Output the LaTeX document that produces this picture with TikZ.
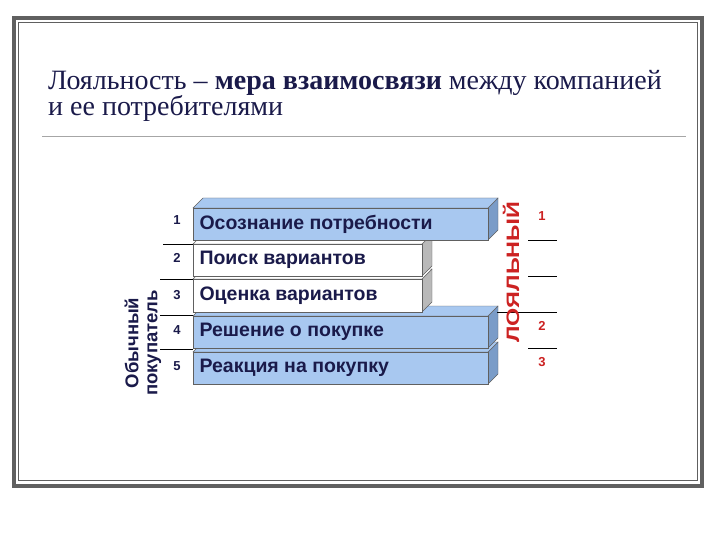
\documentclass[tikz,border=0pt]{standalone}
\usepackage{fontspec}
\setmainfont{Liberation Serif}
\newfontfamily\arial{Liberation Sans}
\begin{document}
\begin{tikzpicture}[x=1pt,y=-1pt,
  boxtxt/.style={font=\arial\bfseries\fontsize{19.5}{20}\selectfont,text=navy,anchor=west},
  numtxt/.style={font=\arial\bfseries\fontsize{13}{14}\selectfont,text=navy},
  rednum/.style={font=\arial\bfseries\fontsize{13}{14}\selectfont,text=redc},
  thin/.style={black,line width=0.6pt}]
\definecolor{navy}{HTML}{1A1A4A}
\definecolor{redc}{HTML}{CC2222}
\definecolor{bluef}{HTML}{A8C8F0}
\definecolor{blues}{HTML}{7A9CC8}
\definecolor{frameg}{HTML}{606060}
\useasboundingbox (0,0) rectangle (720,540);
\fill[white] (0,0) rectangle (720,540);
\draw[frameg,line width=4pt] (14,18) rectangle (702,486);
\draw[frameg,line width=0.8pt] (18,22) rectangle (697,480);
\node[anchor=base west,inner sep=0,text=navy,font=\fontsize{28}{30}\selectfont] (t1) at (48,90) {Лояльность – \textbf{мера взаимосвязи} между компанией};
\node[anchor=base west,inner sep=0,text=navy,font=\fontsize{28}{30}\selectfont] (t2) at (48,116) {и ее потребителями};
\draw[gray!70,line width=0.8pt] (42,136) -- (686,136);
% box5
\filldraw[draw=frameg,fill=blues] (488,352)--(498,342)--(498,374)--(488,384)--cycle;
\filldraw[draw=frameg,fill=bluef] (193,352)--(203,342)--(498,342)--(488,352)--cycle;
\node[draw=frameg,fill=bluef,minimum width=295,minimum height=32,inner sep=0,anchor=north west] (b5) at (193,352) {};
% box4
\filldraw[draw=frameg,fill=blues] (488,316)--(498,306)--(498,338)--(488,348)--cycle;
\filldraw[draw=frameg,fill=bluef] (193,316)--(203,306)--(498,306)--(488,316)--cycle;
\node[draw=frameg,fill=bluef,minimum width=295,minimum height=32,inner sep=0,anchor=north west] (b4) at (193,316) {};
% box3
\filldraw[draw=frameg,fill=gray!55] (422,279)--(432,269)--(432,302)--(422,312)--cycle;
\filldraw[draw=frameg,fill=white] (193,279)--(203,269)--(432,269)--(422,279)--cycle;
\node[draw=frameg,fill=white,minimum width=229,minimum height=33,inner sep=0,anchor=north west] (b3) at (193,279) {};
% box2
\filldraw[draw=frameg,fill=gray!55] (422,244)--(432,234)--(432,266)--(422,276)--cycle;
\filldraw[draw=frameg,fill=white] (193,244)--(203,234)--(432,234)--(422,244)--cycle;
\node[draw=frameg,fill=white,minimum width=229,minimum height=32,inner sep=0,anchor=north west] (b2) at (193,244) {};
% box1
\filldraw[draw=frameg,fill=blues] (488,208)--(498,198)--(498,230)--(488,240)--cycle;
\filldraw[draw=frameg,fill=bluef] (193,208)--(203,198)--(498,198)--(488,208)--cycle;
\node[draw=frameg,fill=bluef,minimum width=295,minimum height=32,inner sep=0,anchor=north west] (b1) at (193,208) {};
\node[boxtxt] (l1) at ([xshift=3]b1.west) {Осознание потребности};
\node[boxtxt] (l2) at ([xshift=3]b2.west) {Поиск вариантов};
\node[boxtxt] (l3) at ([xshift=3]b3.west) {Оценка вариантов};
\node[boxtxt] (l4) at ([xshift=3]b4.west) {Решение о покупке};
\node[boxtxt] (l5) at ([xshift=3]b5.west) {Реакция на покупку};
\node[numtxt] (n1) at (177,220) {1};
\node[numtxt] (n2) at (177,258) {2};
\node[numtxt] (n3) at (177,295) {3};
\node[numtxt] (n4) at (177,330) {4};
\node[numtxt] (n5) at (177,366) {5};
\draw[thin] (163,244) -- (193,244);
\draw[thin] (160,279) -- (193,279);
\draw[thin] (160,315) -- (193,315);
\draw[thin] (160,349) -- (193,349);
\draw[thin] (528,240) -- (557,240);
\draw[thin] (528,276) -- (557,276);
\draw[thin] (497,312) -- (557,312);
\draw[thin] (528,348) -- (557,348);
\node[rednum] (r1) at (542,216) {1};
\node[rednum] (r2) at (542,326) {2};
\node[rednum] (r3) at (542,362) {3};
\node[rotate=90,font=\arial\bfseries\fontsize{18}{18}\selectfont,text=redc,xscale=1.3] (loy) at (511,272) {ЛОЯЛЬНЫЙ};
\node[rotate=90,font=\arial\bfseries\fontsize{18.5}{19}\selectfont,text=navy,align=center] (ob) at (143,343) {Обычный\\покупатель};
\end{tikzpicture}
\end{document}
